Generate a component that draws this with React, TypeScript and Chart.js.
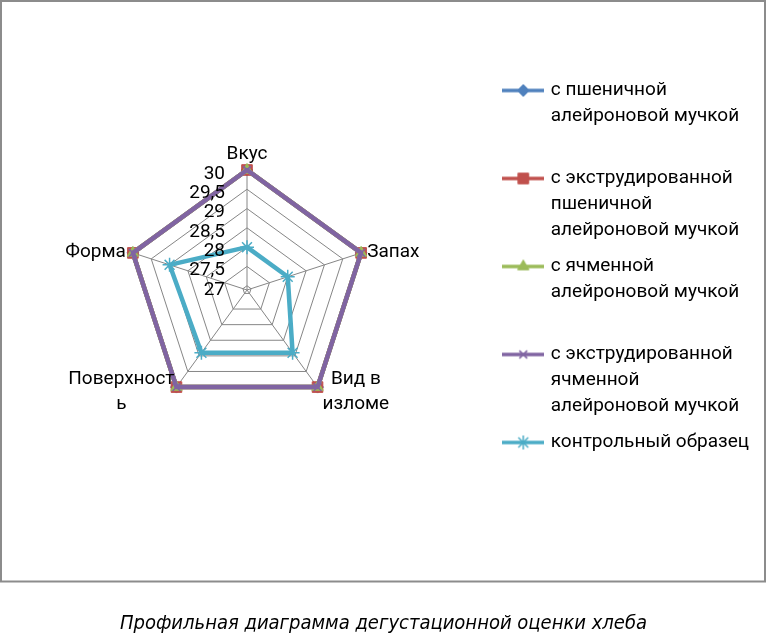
import React, { useEffect, useRef } from 'react';
import { Chart, registerables } from 'chart.js';
import { drawPoint } from 'chart.js/helpers';

Chart.register(...registerables);

// ---------------- data ----------------
const categories: string[][] = [['Вкус'], ['Запах'], ['Вид в', 'изломе'], ['Поверхност', 'ь'], ['Форма']];

const wheatAleurone = [30, 30, 30, 30, 30];
const extrudedWheatAleurone = [30, 30, 30, 30, 30];
const barleyAleurone = [30, 30, 30, 30, 30];
const extrudedBarleyAleurone = [30, 30, 30, 30, 30];
const controlSample = [28, 28, 28.9, 28.9, 29];

const seriesLabels: string[][] = [
  ['с пшеничной', 'алейроновой мучкой', ''],
  ['с экструдированной', 'пшеничной', 'алейроновой мучкой'],
  ['с ячменной', 'алейроновой мучкой', ''],
  ['с экструдированной', 'ячменной', 'алейроновой мучкой'],
  ['контрольный образец'],
];

const tickValues = [27, 27.5, 28, 28.5, 29, 29.5, 30];
const tickLabels = ['27', '27,5', '28', '28,5', '29', '29,5', '30'];
const axisMin = 26.89;
const axisMax = 30;

const caption = 'Профильная диаграмма дегустационной оценки хлеба';

// ---------------- styles ----------------
const W = 767;
const H = 639;
const FONT = 'Roboto';
const FONT_SIZE = 19;
const RADAR = { cx: 247, cy: 290, r: 120 };
const GRID = '#868686';
const colors = ['#4F81BD', '#C0504D', '#9BBB59', '#8064A2', '#4BACC6'];
const markers = [
  { style: 'rectRot', radius: 6, borderWidth: 1 },
  { style: 'rect', radius: 7.5, borderWidth: 1 },
  { style: 'triangle', radius: 6.5, borderWidth: 1 },
  { style: 'crossRot', radius: 5.5, borderWidth: 1.5 },
  { style: 'star', radius: 7, borderWidth: 1.5 },
];

function makeLegendIcon(color: string, marker: any) {
  const c = document.createElement('canvas');
  c.width = 42;
  c.height = 18;
  const ctx = c.getContext('2d')!;
  ctx.strokeStyle = color;
  ctx.lineWidth = 3.5;
  ctx.beginPath();
  ctx.moveTo(0, 9);
  ctx.lineTo(42, 9);
  ctx.stroke();
  ctx.fillStyle = color;
  ctx.strokeStyle = color;
  ctx.lineWidth = marker.borderWidth;
  drawPoint(ctx, { pointStyle: marker.style, radius: marker.radius, borderWidth: marker.borderWidth, rotation: 0 } as any, 21, 9);
  return c;
}

const framePlugin = {
  id: 'frame',
  beforeDraw(chart: any) {
    const ctx = chart.ctx;
    ctx.save();
    ctx.fillStyle = '#ffffff';
    ctx.fillRect(0, 0, chart.width, chart.height);
    ctx.strokeStyle = '#8c8c8c';
    ctx.lineWidth = 2;
    ctx.strokeRect(1, 1, 764, 580.5);
    ctx.restore();
  },
};

const axisTextPlugin = {
  id: 'axisText',
  afterDatasetsDraw(chart: any) {
    const s = chart.scales.r;
    const ctx = chart.ctx;
    ctx.save();
    ctx.font = `${FONT_SIZE}px ${FONT}`;
    ctx.fillStyle = '#000';
    ctx.textBaseline = 'middle';
    ctx.textAlign = 'right';
    tickValues.forEach((v, i) => {
      const d = s.getDistanceFromCenterForValue(v);
      ctx.fillText(tickLabels[i], s.xCenter - 22, s.yCenter - d + 4);
    });
    const lh = 25;
    ctx.textAlign = 'center';
    categories.forEach((lines, i) => {
      const p = s.getPointPosition(i, s.drawingArea);
      const bw = Math.max(...lines.map((l) => ctx.measureText(l).width));
      const bh = lines.length * lh;
      const dx = p.x - s.xCenter;
      const below = p.y > s.yCenter + 10;
      let left: number;
      let top: number;
      if (Math.abs(dx) < 1) {
        left = p.x - bw / 2;
        top = p.y - 3 - bh;
      } else if (dx > 0) {
        left = p.x + (below ? 5 : 6);
        top = p.y - bh / 2 + (below ? 5 : -1);
      } else {
        left = p.x - (below ? 2 : 7) - bw;
        top = p.y - bh / 2 + (below ? 5 : -1);
      }
      lines.forEach((l, j) => ctx.fillText(l, left + bw / 2, top + lh * j + lh / 2));
    });
    ctx.restore();
  },
};

export default function App() {
  const ref = useRef<HTMLCanvasElement>(null);
  useEffect(() => {
    if (!ref.current) return;
    const series = [wheatAleurone, extrudedWheatAleurone, barleyAleurone, extrudedBarleyAleurone, controlSample];
    const icons = colors.map((c, i) => makeLegendIcon(c, markers[i]));
    const chart = new Chart(ref.current, {
      type: 'radar',
      data: {
        labels: categories.map((c) => c.join(' ')),
        datasets: series.map((d, i) => ({
          label: seriesLabels[i].filter(Boolean).join(' '),
          data: d,
          borderColor: colors[i],
          backgroundColor: colors[i],
          borderWidth: 4.5,
          borderJoinStyle: 'round',
          fill: false,
          tension: 0,
          pointStyle: markers[i].style as any,
          pointRadius: markers[i].radius,
          pointHoverRadius: markers[i].radius,
          pointBorderWidth: markers[i].borderWidth,
          pointBackgroundColor: colors[i],
          pointBorderColor: colors[i],
          order: 4 - i,
        })),
      },
      options: {
        animation: false,
        responsive: false,
        layout: { padding: { top: 71, right: 8, left: 8, bottom: 0 } },
        scales: {
          r: {
            min: axisMin,
            max: axisMax,
            afterSetDimensions: (s: any) => {
              s.xCenter = RADAR.cx;
              s.yCenter = RADAR.cy;
              s.drawingArea = RADAR.r;
            },
            afterBuildTicks: (s: any) => {
              s.ticks = [axisMin, ...tickValues].map((v) => ({ value: v }));
            },
            ticks: { display: false },
            grid: { color: GRID, lineWidth: 1 },
            angleLines: { color: GRID, lineWidth: 1 },
            pointLabels: { display: false },
          },
        },
        plugins: {
          tooltip: { enabled: false },
          legend: {
            position: 'right',
            align: 'start',
            labels: {
              usePointStyle: true,
              pointStyleWidth: 36,
              padding: 10,
              color: '#000',
              font: { family: FONT, size: FONT_SIZE, lineHeight: 26 / FONT_SIZE },
              generateLabels: () =>
                seriesLabels.map((t, i) => ({
                  text: t as any,
                  pointStyle: icons[i] as any,
                  fillStyle: colors[i],
                  strokeStyle: colors[i],
                  lineWidth: 0,
                  hidden: false,
                  datasetIndex: i,
                  fontColor: '#000',
                })),
            },
          },
          title: {
            display: true,
            position: 'bottom',
            text: caption,
            color: '#000',
            font: { family: "'Liberation Sans Narrow', 'DejaVu Sans Condensed', sans-serif", style: 'italic', weight: 'normal', size: 20, lineHeight: 1.2 },
            padding: { top: 10, bottom: 3 },
          },
        },
      },
      plugins: [framePlugin, axisTextPlugin],
    });
    return () => chart.destroy();
  }, []);
  return (
    <div style={{ position: 'fixed', left: 0, top: 0, width: W, height: H, background: '#fff' }}>
      <canvas ref={ref} width={W} height={H} style={{ width: W, height: H, display: 'block' }} />
    </div>
  );
}
